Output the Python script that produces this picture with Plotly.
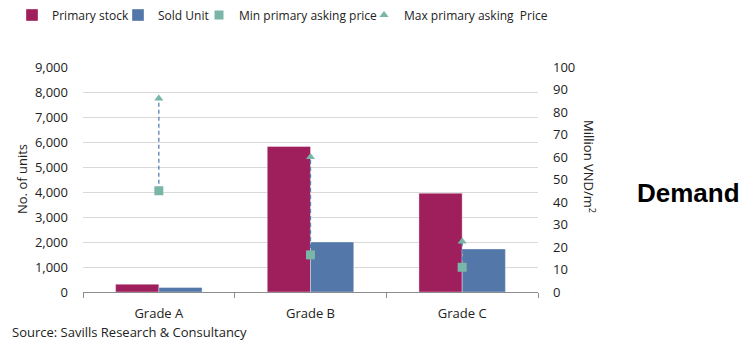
import plotly.graph_objects as go

categories = ["Grade A", "Grade B", "Grade C"]
primary_stock = [310, 5820, 3950]
sold_unit = [180, 2000, 1720]
min_price = [45, 16.5, 11]
max_price = [86, 60, 22.5]

c_primary = "#9E1F5C"
c_sold = "#5277A8"
c_marker = "#79B6A7"
c_dash = "#5A7FB5"
font_family = "Open Sans, Noto Sans, sans-serif"

pl, pr, pt, pb = 83, 538, 67, 292
W, H = 742, 345


def px2paper(px, py):
    return (px - pl) / (pr - pl), (pb - py) / (pb - pt)


fig = go.Figure()
fig.add_trace(go.Bar(x=categories, y=primary_stock, name="Primary stock", legend="legend",
                     marker=dict(color=c_primary, line=dict(width=0.6, color="rgba(255,255,255,0.6)"))))
fig.add_trace(go.Bar(x=categories, y=sold_unit, name="Sold Unit", legend="legend2",
                     marker=dict(color=c_sold, line=dict(width=0.6, color="rgba(255,255,255,0.6)"))))

lx, ly = [], []
for c, lo, hi in zip(categories, min_price, max_price):
    lx += [c, c, None]
    ly += [lo, hi, None]
fig.add_trace(go.Scatter(x=lx, y=ly, mode="lines", yaxis="y2", showlegend=False,
                         line=dict(color=c_dash, width=1.3, dash="4px,3px"), hoverinfo="skip"))
fig.add_trace(go.Scatter(x=categories, y=min_price, mode="markers", yaxis="y2",
                         name="Min primary asking price", legend="legend3",
                         marker=dict(symbol="square", size=9, color=c_marker)))
fig.add_trace(go.Scatter(x=categories, y=max_price, mode="markers", yaxis="y2",
                         name="Max primary asking  Price", legend="legend4",
                         marker=dict(symbol="triangle-up", size=8, color=c_marker)))

legend_px = [12, 118, 199, 364]
legends = {}
for i, lxp in enumerate(legend_px):
    xx, yy = px2paper(lxp, 15)
    key = "legend" if i == 0 else f"legend{i+1}"
    legends[key] = dict(orientation="h", x=xx, xanchor="left", y=yy, yanchor="middle",
                        font=dict(size=12), itemwidth=30, bgcolor="rgba(0,0,0,0)",
                        borderwidth=0)

fig.update_layout(
    width=W, height=H,
    margin=dict(l=pl, r=W - pr, t=pt, b=H - pb, autoexpand=False),
    plot_bgcolor="white", paper_bgcolor="white",
    font=dict(family=font_family, size=13, color="#222222"),
    barmode="group", bargap=0.43, bargroupgap=0,
    showlegend=True,
    xaxis=dict(type="category", showgrid=False, showline=True, linecolor="#8C8C8C",
               linewidth=1, ticks="outside", tickson="boundaries", ticklen=5,
               tickcolor="#8C8C8C", tickfont=dict(size=13), ticklabelstandoff=9),
    yaxis=dict(range=[0, 9000], dtick=1000, tickformat=",d", showgrid=True,
               gridcolor="#D9D9D9", gridwidth=1, zeroline=False, showline=False,
               ticks="", tickfont=dict(size=13), ticklabelstandoff=14),
    yaxis2=dict(range=[0, 100], dtick=10, overlaying="y", side="right",
                showgrid=False, zeroline=False, showline=False, ticks="",
                tickfont=dict(size=13), ticklabelstandoff=14),
    **legends,
)

ann_specs = [
    dict(text="No. of units", px=22, py=179, textangle=-90, size=13),
    dict(text="Million VND/m<sup>2</sup>", px=590, py=166, textangle=90, size=13),
    dict(text="Source: Savills Research & Consultancy", px=10, py=332, xanchor="left", size=13),
    dict(text="<b>Demand</b>", px=688, py=193, size=26,
         family="Liberation Sans, Arial, sans-serif", color="#000000"),
]
for a in ann_specs:
    xx, yy = px2paper(a["px"], a["py"])
    fig.add_annotation(text=a["text"], x=xx, y=yy, xref="paper", yref="paper",
                       showarrow=False, textangle=a.get("textangle", 0),
                       xanchor=a.get("xanchor", "center"), yanchor="middle",
                       font=dict(size=a["size"], family=a.get("family", font_family),
                                 color=a.get("color", "#222222")))

fig.write_html("out.html")
